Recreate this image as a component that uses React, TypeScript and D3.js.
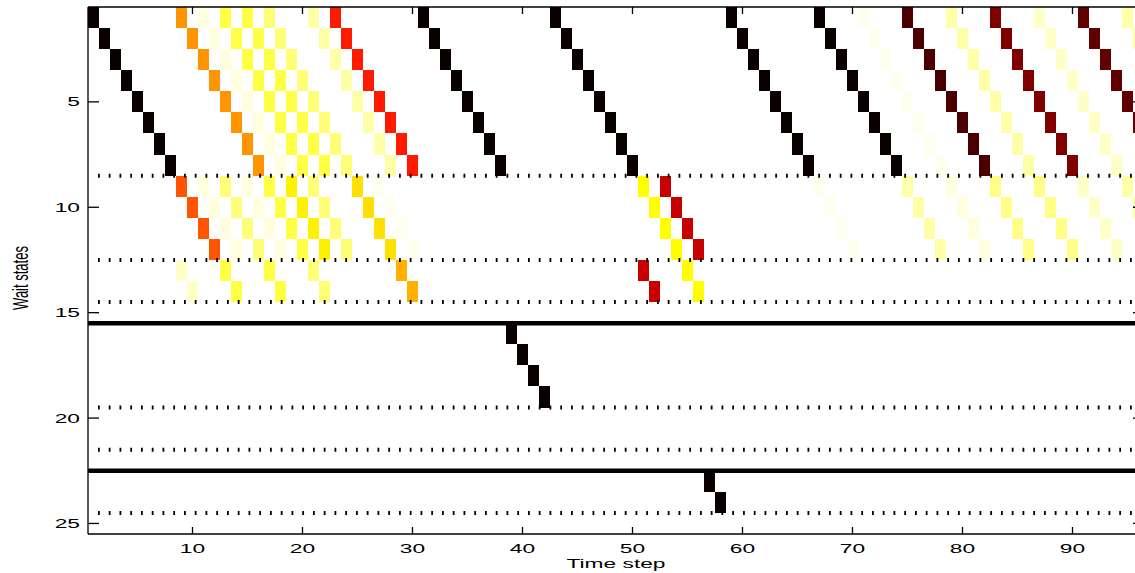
import React, { useEffect, useRef } from "react";
import * as d3 from "d3";

// colour codes -> value on the "hot" colormap (0 = black, 1 = white)
const levelCodes = ["k", "m", "n", "p", "q", "r", "o", "O", "g", "G", "Y", "y", "a", "c", "d", "e", "f", "h", "w"];
const levelValues = [0.016, 0.109, 0.141, 0.188, 0.294, 0.413, 0.5, 0.593, 0.634, 0.704, 0.731, 0.75, 0.817, 0.867, 0.883, 0.915, 0.946, 0.97, 0.985];

// one string per wait state: "<time step><colour code>" tokens
// wait states 1..8
const bandA = [
  "1k 9O 11h 13a 15a 17c 21e 23r 31k 43k 59k 67k 71w 75m 79e 83p 87f 91n 95e",
  "2k 10O 12h 14a 16a 18c 22e 24r 32k 44k 60k 68k 72w 76m 80e 84p 88f 92n 96e",
  "3k 11O 13h 15a 17a 19c 23e 25r 33k 45k 61k 69k 73w 77m 81e 85p 89f 93n",
  "4k 12O 14h 16a 18a 20c 24e 26r 34k 46k 62k 70k 74w 78m 82e 86p 90f 94n",
  "5k 13O 15h 17a 19a 21c 25e 27r 35k 47k 63k 71k 75w 79m 83e 87p 91f 95n",
  "6k 14O 16h 18a 20a 22c 26e 28r 36k 48k 64k 72k 76w 80m 84e 88p 92f 96n",
  "7k 15O 17h 19a 21a 23c 27e 29r 37k 49k 65k 73k 77w 81m 85e 89p 93f",
  "8k 16O 18h 20a 22a 24c 28e 30r 38k 50k 66k 74k 78w 82m 86e 90p 94f",
];
// wait states 9..12
const bandB = [
  "9o 11h 13c 15h 17a 19Y 21c 25G 27w 51y 53q 67w 75e 79h 83d 87d 91f 95e",
  "10o 12h 14c 16h 18a 20Y 22c 26G 28w 52y 54q 68w 76e 80h 84d 88d 92f 96e",
  "11o 13h 15c 17h 19a 21Y 23c 27G 29w 53y 55q 69w 77e 81h 85d 89d 93f",
  "12o 14h 16c 18h 20a 22Y 24c 28G 30w 54y 56q 70w 78e 82h 86d 90d 94f",
];
// wait states 13..14
const bandC = ["9f 13a 17a 21c 29g 51q 55y", "10f 14a 18a 22c 30g 52q 56y"];
// wait states 16..19
const bandD = ["39k", "40k", "41k", "42k"];
// wait states 23..24
const bandE = ["57k", "58k"];
const bandStart = [1, 9, 13, 16, 23];

const dottedAt = [8.5, 12.5, 14.5, 19.5, 21.5, 24.5];
const solidAt = [15.5, 22.5];
const xTicks = [10, 20, 30, 40, 50, 60, 70, 80, 90];
const yTicks = [5, 10, 15, 20, 25];

const W = 1135;
const H = 573;
const SX = 1.75; // text in the picture is stretched sideways

const App = () => {
  const ref = useRef<SVGSVGElement>(null);

  useEffect(() => {
    const svg = d3.select(ref.current);
    svg.selectAll("*").remove();

    const x = d3.scaleLinear().domain([0.5, 96.5]).range([88, 1144]);
    const y = d3.scaleLinear().domain([0.5, 25.5]).range([7, 534]);
    const hot = d3
      .scaleLinear<string>()
      .domain([0, 0.375, 0.75, 1])
      .range(["#000000", "#ff0000", "#ffff00", "#ffffff"])
      .interpolate(d3.interpolateRgb);
    const colorOf = new Map(levelCodes.map((c, i) => [c, hot(levelValues[i])]));

    const cells: { t: number; s: number; c: string }[] = [];
    [bandA, bandB, bandC, bandD, bandE].forEach((band, bi) => {
      band.forEach((row, i) => {
        const s = bandStart[bi] + i;
        row.split(" ").forEach(tok => {
          const m = tok.match(/^(\d+)([a-zA-Z])$/);
          if (m) cells.push({ t: +m[1], s, c: m[2] });
        });
      });
    });

    svg.append("rect").attr("width", W).attr("height", H).attr("fill", "#fff");

    svg.append("g")
      .selectAll("rect")
      .data(cells)
      .enter().append("rect")
      .attr("x", d => x(d.t - 0.5))
      .attr("y", d => y(d.s - 0.5))
      .attr("width", d => x(d.t + 0.5) - x(d.t - 0.5))
      .attr("height", d => y(d.s + 0.5) - y(d.s - 0.5))
      .attr("fill", d => colorOf.get(d.c) as string)
      .attr("shape-rendering", "crispEdges");

    svg.append("g")
      .selectAll("line")
      .data(dottedAt)
      .enter().append("line")
      .attr("x1", x(1.5) - 1)
      .attr("x2", W)
      .attr("y1", d => y(d))
      .attr("y2", d => y(d))
      .attr("stroke", "#000")
      .attr("stroke-width", 4)
      .attr("stroke-dasharray", "1.8 8.95");

    svg.append("g")
      .selectAll("line")
      .data(solidAt)
      .enter().append("line")
      .attr("x1", x(0.5))
      .attr("x2", W)
      .attr("y1", d => y(d))
      .attr("y2", d => y(d))
      .attr("stroke", "#000")
      .attr("stroke-width", 4.5);

    // axes box
    const ax = svg.append("g").attr("stroke", "#000").attr("stroke-width", 1.3);
    ax.append("line").attr("x1", x(0.5)).attr("x2", x(0.5)).attr("y1", y(0.5)).attr("y2", y(25.5));
    ax.append("line").attr("x1", x(0.5)).attr("x2", x(96.5)).attr("y1", y(0.5)).attr("y2", y(0.5));
    ax.append("line").attr("x1", x(0.5)).attr("x2", x(96.5)).attr("y1", y(25.5)).attr("y2", y(25.5));
    ax.append("line").attr("x1", x(96.5)).attr("x2", x(96.5)).attr("y1", y(0.5)).attr("y2", y(25.5));

    xTicks.forEach(t => {
      ax.append("line").attr("x1", x(t)).attr("x2", x(t)).attr("y1", y(25.5)).attr("y2", y(25.5) - 7);
      ax.append("line").attr("x1", x(t)).attr("x2", x(t)).attr("y1", y(0.5)).attr("y2", y(0.5) + 7);
    });
    yTicks.forEach(s => {
      ax.append("line").attr("x1", x(0.5)).attr("x2", x(0.5) + 11).attr("y1", y(s)).attr("y2", y(s));
      ax.append("line").attr("x1", x(96.5)).attr("x2", x(96.5) - 11).attr("y1", y(s)).attr("y2", y(s));
    });

    const font = "'Liberation Sans', Arial, Helvetica, sans-serif";
    const lab = svg.append("g").style("font-family", font).style("font-size", "13px").attr("fill", "#000");

    xTicks.forEach(t => {
      lab.append("text")
        .attr("transform", `translate(${x(t)},553) scale(${SX},1)`)
        .attr("text-anchor", "middle")
        .text(t);
    });
    yTicks.forEach(s => {
      lab.append("text")
        .attr("transform", `translate(80,${y(s) + 4.6}) scale(${SX},1)`)
        .attr("text-anchor", "end")
        .text(s);
    });

    lab.append("text")
      .attr("transform", `translate(616,568) scale(${SX},1)`)
      .attr("text-anchor", "middle")
      .text("Time step");

    lab.append("text")
      .attr("transform", `translate(28,278) scale(${SX},1) rotate(-90)`)
      .attr("text-anchor", "middle")
      .text("Wait states");
  }, []);

  return (
    <div style={{ position: "absolute", left: 0, top: 0 }}>
      <svg ref={ref} width={W} height={H} style={{ display: "block" }}></svg>
    </div>
  );
};

export default App;
